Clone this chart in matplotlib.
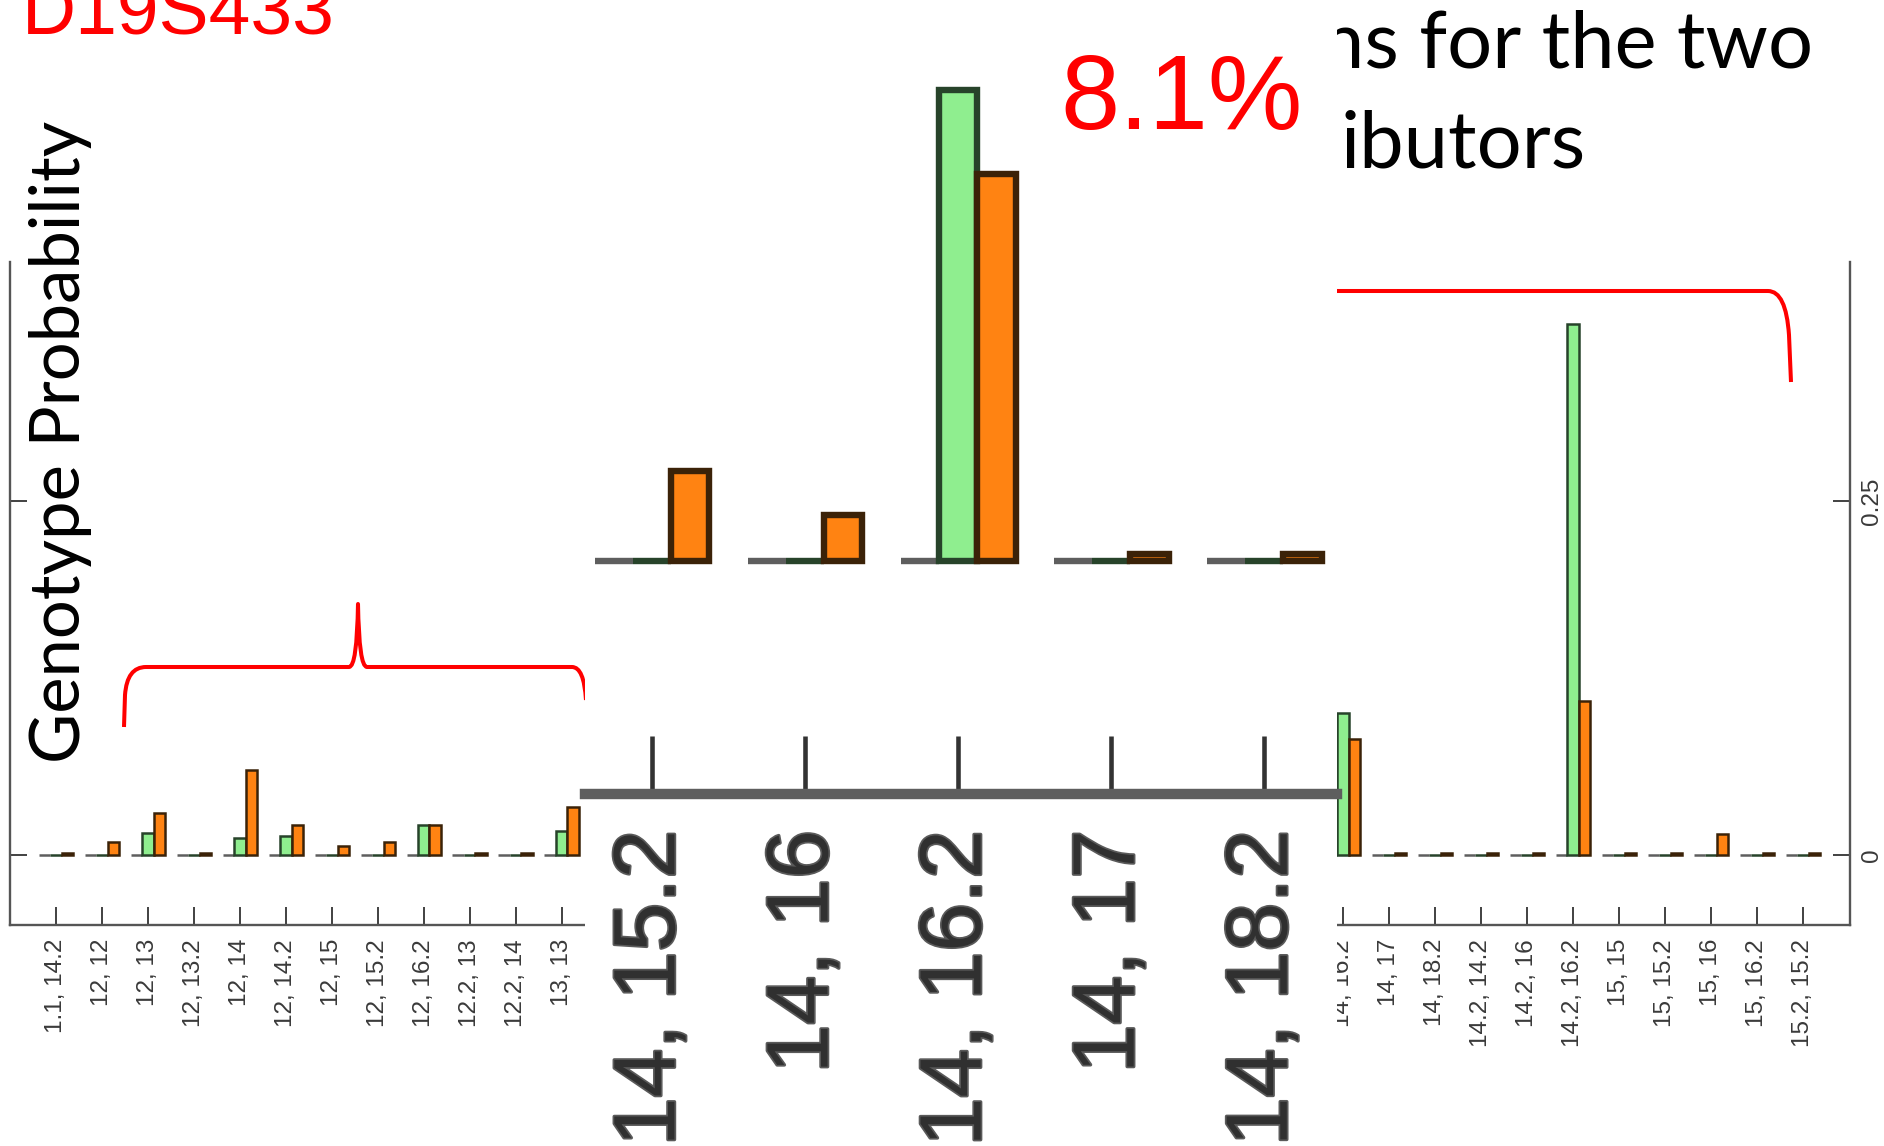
import numpy as np
import matplotlib
matplotlib.use("Agg")
import matplotlib.pyplot as plt
import matplotlib.patheffects as pe
from matplotlib.path import Path
from matplotlib.patches import PathPatch

plt.rcParams['font.family'] = ['Liberation Sans', 'DejaVu Sans']

# ---- data -------------------------------------------------------------
genotypes = [
    "1.1, 14.2", "12, 12", "12, 13", "12, 13.2", "12, 14", "12, 14.2",
    "12, 15", "12, 15.2", "12, 16.2", "12.2, 13", "12.2, 14", "13, 13",
    "13, 13.2", "13, 14", "13, 14.2", "13, 15", "13, 15.2", "13, 16",
    "13, 16.2", "13.2, 14", "13.2, 14.2", "13.2, 15", "13.2, 16.2",
    "14, 14", "14, 14.2", "14, 15", "14, 15.2", "14, 16", "14, 16.2",
    "14, 17", "14, 18.2", "14.2, 14.2", "14.2, 16", "14.2, 16.2",
    "15, 15", "15, 15.2", "15, 16", "15, 16.2", "15.2, 15.2",
]

other_prob = [
    0, 0, 0, 0, 0, 0, 0, 0, 0, 0, 0, 0, 0,
    0, 0, 0, 0, 0, 0, 0, 0, 0, 0, 0, 0, 0,
    0, 0, 0, 0, 0, 0, 0, 0, 0, 0, 0, 0, 0,
]

major_prob = [
    0.0, 0.0, 0.0156, 0.0, 0.012, 0.0136, 0.0, 0.0, 0.021, 0.0, 0.0, 0.017,
    0.0, 0.0, 0.0, 0.0, 0.0, 0.0, 0.0, 0.0, 0.0, 0.0, 0.0, 0.0, 0.0, 0.0,
    0.0, 0.0, 0.100, 0.0, 0.0, 0.0, 0.0, 0.375, 0.0, 0.0, 0.0, 0.0, 0.0,
]

minor_prob = [
    0.0015, 0.0094, 0.030, 0.0015, 0.060, 0.021, 0.0067, 0.0094, 0.021,
    0.0015, 0.0015, 0.034,
    0.0015, 0.0015, 0.0015, 0.0015, 0.0015, 0.0015, 0.0015, 0.0015, 0.0015,
    0.0015, 0.0015, 0.0015, 0.0015, 0.0015,
    0.019, 0.0097, 0.082, 0.0015, 0.0015, 0.0015, 0.0015, 0.109,
    0.0015, 0.0015, 0.015, 0.0015, 0.0015,
]

y_ticks = [0, 0.25]
y_tick_labels = ["0", "0.25"]

marker_name = "D19S433"
y_title = "Genotype Probability"
title_lines = ["ns for the two", "ibutors"]
highlight = "8.1%"

# ---- figure -------------------------------------------------------------
W, H, DPI = 1884, 1146, 100
fig = plt.figure(figsize=(W / DPI, H / DPI), dpi=DPI)
fig.patch.set_facecolor("white")
renderer = fig.canvas.get_renderer()


def fx(px):
    return px / W


def fy(py):
    return 1 - py / H


def fit_size(s, family, target_px):
    t = fig.text(0, 0, s, fontsize=100, family=family)
    w = t.get_window_extent(renderer).width
    t.remove()
    return 100 * target_px / w


Y_FLOOR = -0.0494
GREEN = "#8FEE8F"
ORANGE = "#FF8312"


def draw_genotypes(ax, lw):
    x = np.arange(len(genotypes)) * 4.0
    common = dict(width=1.0, align="center", linewidth=lw)
    ax.bar(x, other_prob, color="#9a8fd0", edgecolor="#5e5e5e", **common)
    ax.bar(x + 1, major_prob, color=GREEN, edgecolor="#27432a", **common)
    ax.bar(x + 2, minor_prob, color=ORANGE, edgecolor="#3b2208", **common)
    ax.set_xticks(x + 1)
    ax.set_xticklabels(genotypes)
    return x


# main panel
ax = fig.add_axes([fx(10), fy(925), fx(1850) - fx(10), fy(262) - fy(925)])
ax.set_zorder(0)
xpos = draw_genotypes(ax, 1.8)
ax.set_xlim(-3.0, 157.1)
ax.set_ylim(Y_FLOOR, 0.4188)
ax.set_yticks(y_ticks)
ax.set_yticklabels(y_tick_labels)
for side in ("left", "right", "bottom"):
    ax.spines[side].set_color("#555555")
    ax.spines[side].set_linewidth(1.7)
ax.spines["top"].set_visible(False)
ax.tick_params(axis="x", direction="in", length=13, width=1.3, color="#333333",
               pad=10, labelsize=17.5, labelcolor="#3a3a3a", labelrotation=90)
ax.tick_params(axis="y", direction="in", length=12, width=1.3, color="#333333",
               left=True, right=True, labelleft=False, labelright=True,
               labelsize=17.5, labelcolor="#3a3a3a", labelrotation=90, pad=8)
for lab in ax.get_yticklabels():
    lab.set_va("center")

# magnified panel over the middle of the chart
INSET_LEFT, INSET_RIGHT = 585, 1337
ins = fig.add_axes([fx(INSET_LEFT), 0.0, fx(INSET_RIGHT) - fx(INSET_LEFT), 1.0])
ins.set_zorder(5)
ins.set_facecolor("white")
draw_genotypes(ins, 4.6)
ins.set_xlim(103.25, 122.9)
ins.set_ylim(-0.1241, 0.1190)
ins.set_yticks([])
for side in ("left", "right", "top"):
    ins.spines[side].set_visible(False)
ins.spines["bottom"].set_position(("data", Y_FLOOR))
ins.spines["bottom"].set_color("#5e5e5e")
ins.spines["bottom"].set_linewidth(7.5)
ins.tick_params(axis="x", direction="in", length=42, width=3.3, color="#333333",
                pad=26, labelsize=63, labelcolor="#303030", labelrotation=90)
for lab in ins.get_xticklabels():
    lab.set_path_effects([pe.withStroke(linewidth=2.5, foreground="#5a5a5a")])

# main-panel labels that sit under the magnified panel are not shown
lo = ax.transData.inverted().transform((INSET_LEFT, 0))[0]
hi = ax.transData.inverted().transform((INSET_RIGHT, 0))[0]
for pos, lab in zip(xpos + 1, ax.get_xticklabels()):
    if lo < pos < hi:
        lab.set_visible(False)

# ---- braces ---------------------------------------------------------------
def px_path(pts, codes):
    verts = [(fx(x), fy(y)) for x, y in pts]
    return Path(verts, codes)


M, L, C3 = Path.MOVETO, Path.LINETO, Path.CURVE3
left_pts = [(124, 727), (125, 695), (127, 667), (146, 667), (349, 667),
            (357, 667), (358, 604), (359, 667), (367, 667), (572, 667),
            (584, 667), (586, 700)]
left_codes = [M, L, C3, C3, L, C3, C3, C3, C3, L, C3, C3]
right_pts = [(1300, 291), (1768, 291), (1786, 291), (1789, 335), (1791, 382)]
right_codes = [M, L, C3, C3, L]
for pts, codes in ((left_pts, left_codes), (right_pts, right_codes)):
    patch = PathPatch(px_path(pts, codes), transform=fig.transFigure,
                      fill=False, edgecolor="#FF0000", linewidth=2.9,
                      capstyle="butt", joinstyle="round", zorder=1)
    fig.add_artist(patch)

# ---- text -------------------------------------------------------------------
HUMANIST = ["Lato", "DejaVu Sans"]

fig.text(fx(22), fy(33), marker_name, color="#FF0000", fontsize=54,
         ha="left", va="baseline", zorder=3)

ylab_size = fit_size(y_title, HUMANIST, 643)
fig.text(fx(80), fy(763), y_title, rotation=90, rotation_mode="anchor",
         ha="left", va="baseline", family=HUMANIST, fontsize=ylab_size,
         color="black", zorder=3)

title_size = fit_size("ibutors", HUMANIST, 245)
fig.text(fx(1813), fy(68), title_lines[0], ha="right", va="baseline",
         family=HUMANIST, fontsize=title_size, color="black", zorder=2)
fig.text(fx(1586), fy(168), title_lines[1], ha="right", va="baseline",
         family=HUMANIST, fontsize=title_size, color="black", zorder=2)

fig.text(fx(1060), fy(129), highlight, color="#FF0000", fontsize=76.5,
         ha="left", va="baseline", zorder=10)

fig.savefig("out.png", dpi=DPI, facecolor="white")
